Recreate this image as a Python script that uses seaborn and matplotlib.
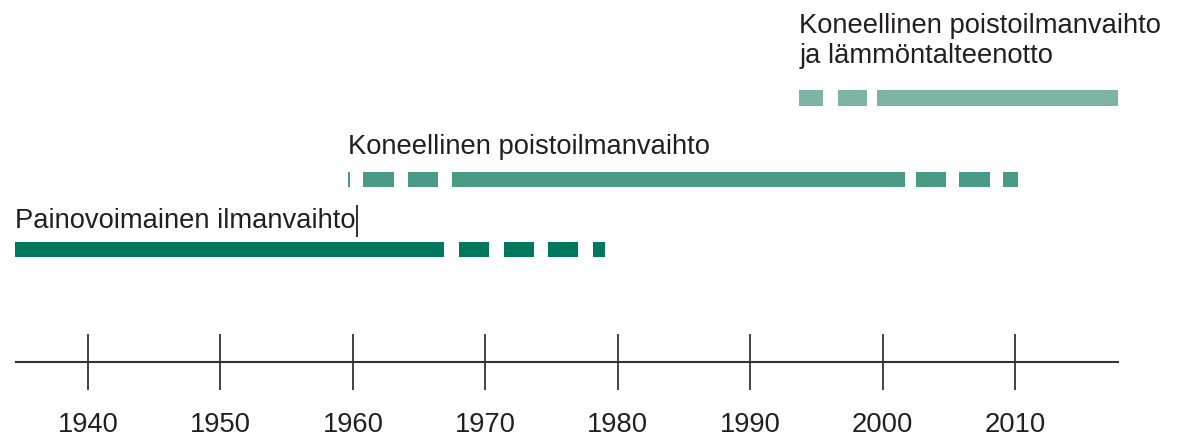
import seaborn as sns
import matplotlib.pyplot as plt
import pandas as pd

# periods (start year, end year) for each ventilation type
labels = ["Painovoimainen ilmanvaihto",
          "Koneellinen poistoilmanvaihto",
          "Koneellinen poistoilmanvaihto\nja lämmöntalteenotto"]

painovoima = [(1934.5, 1966.9), (1968.0, 1970.3), (1971.4, 1973.7),
              (1974.7, 1977.0), (1978.1, 1979.0)]
poisto = [(1959.6, 1959.75), (1960.8, 1963.1), (1964.2, 1966.4),
          (1967.5, 2001.7), (2002.5, 2004.8), (2005.8, 2008.1),
          (2009.1, 2010.2)]
lto = [(1993.7, 1995.5), (1996.6, 1998.8), (1999.6, 2017.8)]

years = [1940, 1950, 1960, 1970, 1980, 1990, 2000, 2010]
colors = ["#00785f", "#4b9987", "#7db4a5"]

rows = []
for i, segs in enumerate([painovoima, poisto, lto]):
    for s, e in segs:
        rows.append({"row": i, "start": s, "end": e})
df = pd.DataFrame(rows)

sns.set_style("white")
plt.rcParams["font.family"] = ["Liberation Sans", "DejaVu Sans"]

fig = plt.figure(figsize=(11.81, 4.36), dpi=100)
ax = fig.add_axes([0, 0, 1, 1])

# pixel-like layout: 13.243 px per year, 1940 at x=88
ax.set_xlim(1933.355, 2022.53)
ax.set_ylim(436, 0)

bar_y = [249.5, 179.5, 98.5]
bar_h = [15, 15, 16]
for i in range(3):
    d = df[df["row"] == i]
    ax.barh([bar_y[i]] * len(d), d["end"] - d["start"], left=d["start"],
            height=bar_h[i], color=colors[i], edgecolor="none")

txt_col = "#231f20"
fs = 19.7
t1 = ax.text(1934.5, 228, labels[0], fontsize=fs, color=txt_col, va="baseline")
ax.text(1959.6, 154, labels[1], fontsize=fs, color=txt_col, va="baseline")
ax.text(1993.7, 63, labels[2], fontsize=fs, color=txt_col, va="baseline",
        linespacing=1.18)

# text cursor after the first label
fig.canvas.draw()
bb = t1.get_window_extent().transformed(ax.transData.inverted())
ax.vlines(bb.x1 + 0.1, 205, 237, color=txt_col, lw=1.3)

# timeline axis
for s in ["top", "left", "right"]:
    ax.spines[s].set_visible(False)
ax.spines["bottom"].set_position(("data", 362))
ax.spines["bottom"].set_bounds(1934.6, 2017.8)
ax.spines["bottom"].set_color("#333333")
ax.spines["bottom"].set_linewidth(1.5)
ax.set_xticks(years)
ax.set_xticklabels([str(y) for y in years])
ax.tick_params(axis="x", direction="inout", length=41, width=1.3,
               color="#333333", labelsize=fs, labelcolor=txt_col, pad=15.5,
               bottom=True)
ax.set_yticks([])

fig.savefig("out.png", dpi=100)
